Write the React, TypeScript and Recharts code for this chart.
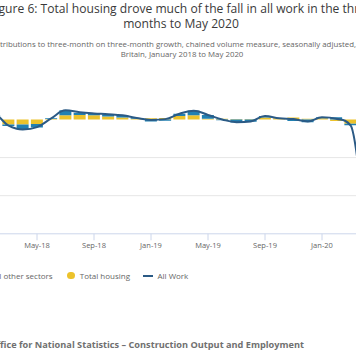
import React from "react";
import { ComposedChart, Bar, Line, XAxis, YAxis, ReferenceLine } from "recharts";

// ---- data ----
const months = [
  "Jan-18", "Feb-18", "Mar-18", "Apr-18", "May-18", "Jun-18", "Jul-18", "Aug-18", "Sep-18", "Oct-18", "Nov-18", "Dec-18",
  "Jan-19", "Feb-19", "Mar-19", "Apr-19", "May-19", "Jun-19", "Jul-19", "Aug-19", "Sep-19", "Oct-19", "Nov-19", "Dec-19",
  "Jan-20", "Feb-20", "Mar-20", "Apr-20", "May-20",
];
const totalHousing = [
  0.3, 0.6, -1.3, -1.3, -1.2, 0.1, 1.1, 1.2, 1.1, 0.8, 0.5, 0.2,
  0.3, 0.4, 0.9, 1.1, 0.2, 0.2, 0.1, 0.1, 0.5, 0.3, 0.5, 0.2,
  0.3, -0.4, -1.1, -14.0, -20.0,
];
const allOtherSectors = [
  0.2, 0.6, -0.4, -1.3, -0.9, 0.2, 1.3, 0.6, 0.5, 0.6, 0.6, 0.2,
  -0.5, -0.3, 0.6, 1.2, 1.0, -0.2, -0.8, -0.6, 0.4, 0.0, -0.4, -0.7,
  0.3, 0.6, -0.4, -10.0, -15.0,
];
const allWork = [
  0.5, 1.2, -1.6, -2.6, -2.0, 0.3, 2.4, 1.9, 1.6, 1.4, 1.1, 0.4,
  -0.1, 0.1, 1.5, 2.3, 1.2, 0.0, -0.7, -0.5, 0.9, 0.3, 0.1, -0.5,
  0.6, 0.2, -1.5, -24.0, -35.0,
];
const tickLabels = ["Jan-18", "May-18", "Sep-18", "Jan-19", "May-19", "Sep-19", "Jan-20", "May-20"];
const gridValues = [-10, -20];
const yDomain = [-30, 5];

const seriesNames = { other: "All other sectors", housing: "Total housing", all: "All Work" };
const titleLines = [
  "Figure 6: Total housing drove much of the fall in all work in the three",
  "months to May 2020",
];
const subtitleLines = [
  "Contributions to three-month on three-month growth, chained volume measure, seasonally adjusted, Great",
  "Britain, January 2018 to May 2020",
];
const sourceText = "Source: Office for National Statistics \u2013 Construction Output and Employment";

const data = months.map((m, i) => ({
  month: m,
  housing: totalHousing[i],
  other: allOtherSectors[i],
  all: allWork[i],
}));

// ---- styles ----
const BLUE = "#2180b2";
const YELLOW = "#ecc22b";
const LINE = "#2b5a85";
const FONT = "'Open Sans', sans-serif";

// layout
const CHART_LEFT = -60;
const M_LEFT = 32.875;
const PLOT_W = 413.25;
const M_RIGHT = 10;
const M_TOP = 100.45;
const PLOT_H = 133.35;
const XAXIS_H = 30;
const CHART_H = 364;
const AXIS_Y = M_TOP + PLOT_H;

// Highcharts-like spline curve
function hcSpline(context: any) {
  let pts: number[][] = [];
  return {
    areaStart() {},
    areaEnd() {},
    lineStart() {
      pts = [];
    },
    point(x: number, y: number) {
      pts.push([+x, +y]);
    },
    lineEnd() {
      const n = pts.length;
      if (!n) return;
      const sm = 1.5;
      const den = sm + 1;
      const L: number[][] = [];
      const R: number[][] = [];
      for (let i = 0; i < n; i++) {
        const p = pts[i];
        if (i > 0 && i < n - 1) {
          const last = pts[i - 1];
          const next = pts[i + 1];
          const lcx = (sm * p[0] + last[0]) / den;
          let lcy = (sm * p[1] + last[1]) / den;
          const rcx = (sm * p[0] + next[0]) / den;
          let rcy = (sm * p[1] + next[1]) / den;
          if (rcx !== lcx) {
            const corr = ((rcy - lcy) * (rcx - p[0])) / (rcx - lcx) + p[1] - rcy;
            lcy += corr;
            rcy += corr;
          }
          if (lcy > last[1] && lcy > p[1]) {
            lcy = Math.max(last[1], p[1]);
            rcy = 2 * p[1] - lcy;
          } else if (lcy < last[1] && lcy < p[1]) {
            lcy = Math.min(last[1], p[1]);
            rcy = 2 * p[1] - lcy;
          }
          if (rcy > next[1] && rcy > p[1]) {
            rcy = Math.max(next[1], p[1]);
            lcy = 2 * p[1] - rcy;
          } else if (rcy < next[1] && rcy < p[1]) {
            rcy = Math.min(next[1], p[1]);
            lcy = 2 * p[1] - rcy;
          }
          L[i] = [lcx, lcy];
          R[i] = [rcx, rcy];
        } else {
          L[i] = p;
          R[i] = p;
        }
      }
      context.moveTo(pts[0][0], pts[0][1]);
      for (let i = 1; i < n; i++) {
        context.bezierCurveTo(R[i - 1][0], R[i - 1][1], L[i][0], L[i][1], pts[i][0], pts[i][1]);
      }
    },
  };
}

const AxisTick = (props: any) => {
  const { x, payload } = props;
  if (!tickLabels.includes(payload.value)) return null;
  return (
    <g>
      <line x1={x} x2={x} y1={AXIS_Y} y2={AXIS_Y + 6.5} stroke="#ccd6eb" strokeWidth={1} />
      <text x={x} y={AXIS_Y + 13.8} textAnchor="middle" fill="#666" fontSize={7.5} fontFamily={FONT}>
        {payload.value}
      </text>
    </g>
  );
};

export default function App() {
  return (
    <div
      style={{
        position: "fixed",
        left: 0,
        top: 0,
        width: 356,
        height: 364,
        overflow: "hidden",
        background: "#fff",
        fontFamily: FONT,
      }}
    >
      <div
        style={{
          position: "absolute",
          left: 181 - 300,
          width: 600,
          top: 0.5,
          textAlign: "center",
          fontSize: 12.1,
          lineHeight: "15px",
          color: "#3a3a3a",
          whiteSpace: "nowrap",
        }}
      >
        {titleLines.map((t) => (
          <div key={t}>{t}</div>
        ))}
      </div>
      <div
        style={{
          position: "absolute",
          left: 182 - 300,
          width: 600,
          top: 39.3,
          textAlign: "center",
          fontSize: 7.85,
          lineHeight: "10px",
          color: "#666",
          whiteSpace: "nowrap",
        }}
      >
        {subtitleLines.map((t) => (
          <div key={t}>{t}</div>
        ))}
      </div>

      <div style={{ position: "absolute", left: CHART_LEFT, top: 0 }}>
        <ComposedChart
          width={M_LEFT + PLOT_W + M_RIGHT}
          height={CHART_H}
          data={data}
          stackOffset="sign"
          margin={{ top: M_TOP, right: M_RIGHT, bottom: CHART_H - M_TOP - PLOT_H - XAXIS_H, left: M_LEFT }}
        >
          <XAxis
            dataKey="month"
            type="category"
            interval={0}
            height={XAXIS_H}
            tickLine={false}
            axisLine={{ stroke: "#ccd6eb", strokeWidth: 1 }}
            tick={<AxisTick />}
          />
          <YAxis hide type="number" domain={yDomain} allowDataOverflow />
          {gridValues.map((v) => (
            <ReferenceLine key={v} y={v} stroke="#e6e6e6" strokeWidth={1} ifOverflow="extendDomain" />
          ))}
          <Bar dataKey="housing" name={seriesNames.housing} stackId="a" fill={YELLOW} barSize={12} isAnimationActive={false} />
          <Bar dataKey="other" name={seriesNames.other} stackId="a" fill={BLUE} barSize={12} isAnimationActive={false} />
          <Line
            dataKey="all"
            name={seriesNames.all}
            type={hcSpline as any}
            stroke={LINE}
            strokeWidth={2}
            dot={false}
            activeDot={false}
            isAnimationActive={false}
          />
        </ComposedChart>
      </div>

      <div
        style={{
          position: "absolute",
          left: -20.2,
          top: 270.5,
          display: "flex",
          alignItems: "center",
          fontSize: 8,
          lineHeight: "10px",
          color: "#666",
          whiteSpace: "nowrap",
        }}
      >
        <span style={{ display: "inline-block", width: 7.4, height: 7.4, borderRadius: "50%", background: BLUE, marginRight: 5 }} />
        <span style={{ marginRight: 14.7 }}>{seriesNames.other}</span>
        <span style={{ display: "inline-block", width: 7.4, height: 7.4, borderRadius: "50%", background: YELLOW, marginRight: 5 }} />
        <span style={{ marginRight: 13.4 }}>{seriesNames.housing}</span>
        <span style={{ display: "inline-block", width: 10, height: 2, background: LINE, marginRight: 4 }} />
        <span>{seriesNames.all}</span>
      </div>

      <div
        style={{
          position: "absolute",
          right: 356 - 304,
          top: 338.9,
          fontSize: 9.2,
          lineHeight: "12px",
          fontWeight: 700,
          color: "#707070",
          whiteSpace: "nowrap",
        }}
      >
        {sourceText}
      </div>
    </div>
  );
}
